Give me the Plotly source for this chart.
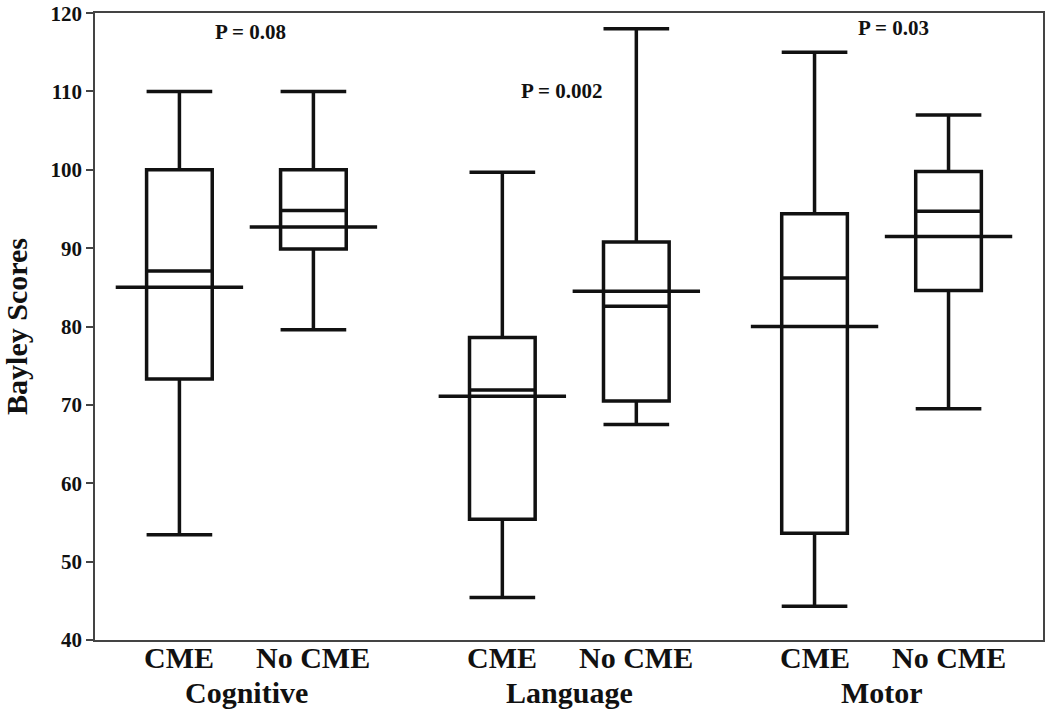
import plotly.graph_objects as go

# ---- data ----
domains = ["Cognitive", "Language", "Motor"]
groups = ["CME", "No CME"]
p_values = ["P = 0.08", "P = 0.002", "P = 0.03"]

# order: Cognitive CME, Cognitive No CME, Language CME, Language No CME, Motor CME, Motor No CME
lower_whisker = [53.4, 79.6, 45.4, 67.5, 44.3, 69.5]
q1 = [73.3, 89.9, 55.4, 70.5, 53.6, 84.6]
median = [87.1, 94.8, 71.9, 82.6, 86.2, 94.7]
q3 = [100.0, 100.0, 78.6, 90.8, 94.4, 99.8]
upper_whisker = [110.0, 110.0, 99.7, 118.0, 115.0, 107.0]
mean = [85.0, 92.7, 71.1, 84.5, 80.0, 91.5]
y_ticks = [40, 50, 60, 70, 80, 90, 100, 110, 120]

# ---- layout helpers ----
group_centers = [1.13, 3.54, 5.87]
half_gap = 0.5
positions = []
labels = []
for gc in group_centers:
    for k, g in enumerate(groups):
        positions.append(gc + (-half_gap if k == 0 else half_gap))
        labels.append(g)

p_label_y = [117.6, 110.0, 118.1]
p_label_dx = [0.03, -0.06, 0.09]

ink = "#111111"
serif = "Liberation Serif"

fig = go.Figure()
for i, pos in enumerate(positions):
    fig.add_trace(go.Box(
        x=[pos],
        q1=[q1[i]], median=[median[i]], q3=[q3[i]],
        lowerfence=[lower_whisker[i]], upperfence=[upper_whisker[i]],
        width=0.49, whiskerwidth=1.0,
        line=dict(color=ink, width=3.5),
        fillcolor="white",
        boxpoints=False,
        showlegend=False,
        hoverinfo="skip",
    ))

# mean lines extending past the boxes
fig.add_trace(go.Scatter(
    x=positions, y=mean, mode="markers",
    marker=dict(symbol="line-ew", size=91, line=dict(color=ink, width=3.5)),
    showlegend=False, hoverinfo="skip",
))

for j, gc in enumerate(group_centers):
    fig.add_annotation(
        x=gc + p_label_dx[j], y=p_label_y[j], xref="x", yref="y",
        text=p_values[j], showarrow=False,
        font=dict(family=serif, size=21, color=ink, weight="bold"),
    )
    fig.add_annotation(
        x=gc, y=-0.083, xref="x", yref="paper",
        text=domains[j], showarrow=False, yanchor="middle",
        font=dict(family=serif, size=30, color=ink, weight="bold"),
    )

for pos, lab in zip(positions, labels):
    fig.add_annotation(
        x=pos, y=-0.028, xref="x", yref="paper",
        text=lab, showarrow=False, yanchor="middle",
        font=dict(family=serif, size=30, color=ink, weight="bold"),
    )

fig.update_layout(
    width=1050, height=714,
    margin=dict(l=95, r=7, t=13, b=74, autoexpand=False),
    paper_bgcolor="white", plot_bgcolor="white",
    xaxis=dict(
        range=[0, 7.075], automargin=False,
        showticklabels=False, ticks="", showgrid=False, zeroline=False,
        showline=True, mirror=True, linecolor="#444444", linewidth=1.5,
    ),
    yaxis=dict(
        range=[39.98, 120.02], automargin=False,
        tickmode="array", tickvals=y_ticks,
        ticks="outside", ticklen=7, tickwidth=1.5, tickcolor="#444444",
        ticklabeloverflow="allow",
        showgrid=False, zeroline=False,
        showline=True, mirror=True, linecolor="#444444", linewidth=1.5,
        tickfont=dict(family=serif, size=21, color=ink, weight="bold"),
        title=dict(text="Bayley Scores", standoff=20,
                   font=dict(family=serif, size=30, color=ink, weight="bold")),
    ),
)

fig.write_html("out.html", config={"displayModeBar": False},
               post_script="document.body.style.margin='0px';")
